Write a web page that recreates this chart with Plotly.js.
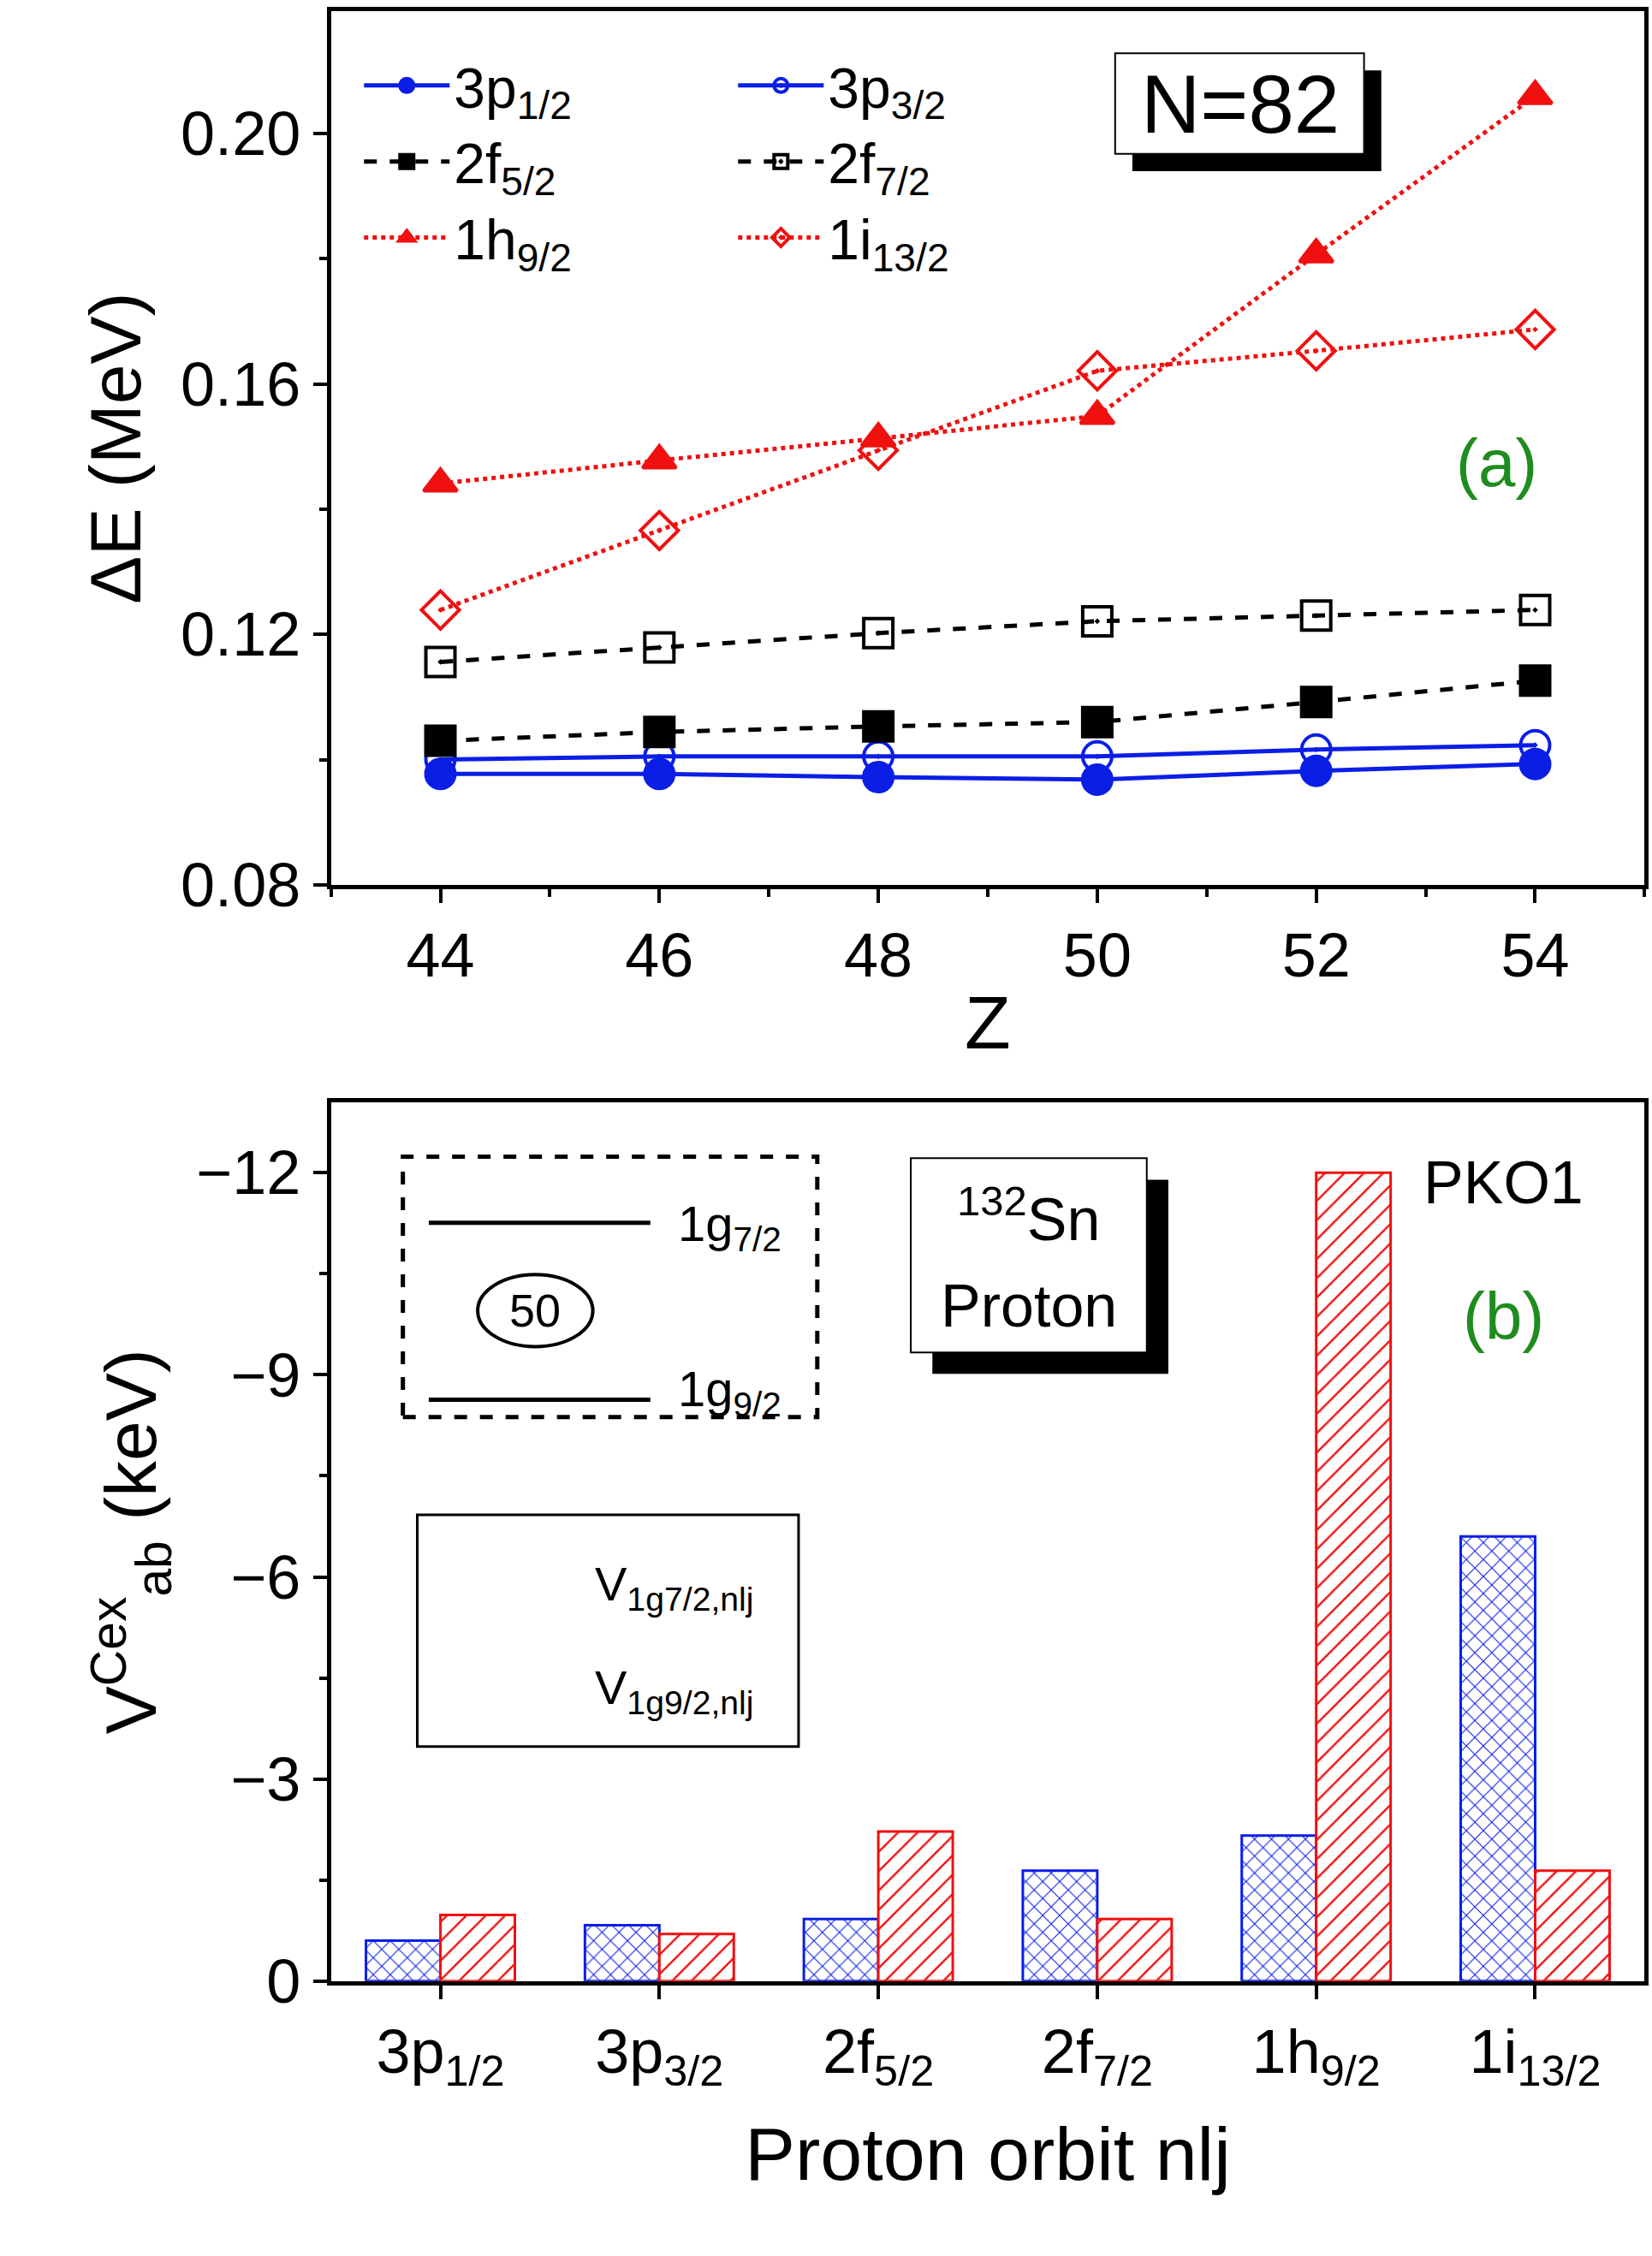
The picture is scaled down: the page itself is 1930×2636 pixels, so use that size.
<!DOCTYPE html>
<html><head><meta charset="utf-8">
<script src="https://cdn.plot.ly/plotly-3.0.1.min.js"></script>
<style>body{margin:0;background:#fff}#main{width:1930px;height:2636px}</style>
</head><body><div id="main"></div>
<script>
// panel (a): Delta E vs Z for N=82
const zValues = [44, 46, 48, 50, 52, 54]
const p1 = [0.0977, 0.0977, 0.0972, 0.0968, 0.0982, 0.0993]
const p3 = [0.1000, 0.1005, 0.1005, 0.1005, 0.1016, 0.1023]
const f5 = [0.1030, 0.1044, 0.1053, 0.1060, 0.1092, 0.1126]
const f7 = [0.1156, 0.1179, 0.1202, 0.1221, 0.1230, 0.1239]
const h9 = [0.1441, 0.1478, 0.1513, 0.1549, 0.1807, 0.2060]
const i13 = [0.1239, 0.1366, 0.1494, 0.1621, 0.1653, 0.1687]

// panel (b): V_ab^Cex in keV
const orbits = ['3p<sub>1/2</sub>', '3p<sub>3/2</sub>', '2f<sub>5/2</sub>', '2f<sub>7/2</sub>', '1h<sub>9/2</sub>', '1i<sub>13/2</sub>']
const v1g9 = [-0.60, -0.83, -0.92, -1.64, -2.16, -6.60]
const v1g7 = [-0.98, -0.70, -2.22, -0.92, -12.0, -1.64]
const barNames = ['V<sub>1g7/2,nlj</sub>', 'V<sub>1g9/2,nlj</sub>']

const K = 1.681
const px = x => x * K / 1930
const py = y => 1 - y * K / 2636
const BLUE = '#0a1ee6', RED = '#f01010', GREEN = '#1e8c1e'
const FONT = 'Liberation Sans, Arial, sans-serif'

const line = (name, y, color, dash, symbol, leg) => ({
  x: zValues, y: y, type: 'scatter', mode: 'lines+markers', name: name,
  xaxis: 'x', yaxis: 'y', legend: leg,
  line: {color: color, dash: dash, width: 5},
  marker: {color: color, symbol: symbol, size: 34, line: {color: color, width: 4}}
})

const redPattern = {shape: '/', fgcolor: RED, bgcolor: 'white', size: 16, solidity: 0.15}
const bluePattern = {shape: 'x', fgcolor: BLUE, bgcolor: 'white', size: 14, solidity: 0.15}

const idx = orbits.map((o, i) => i)
const plotData = [
  line('3p<sub>1/2</sub>', p1, BLUE, 'solid', 'circle', 'legend'),
  line('3p<sub>3/2</sub>', p3, BLUE, 'solid', 'circle-open-dot', 'legend2'),
  line('2f<sub>5/2</sub>', f5, 'black', 'dash', 'square', 'legend'),
  line('2f<sub>7/2</sub>', f7, 'black', 'dash', 'square-open-dot', 'legend2'),
  line('1h<sub>9/2</sub>', h9, RED, 'dot', 'triangle-up', 'legend'),
  line('1i<sub>13/2</sub>', i13, RED, 'dot', 'diamond-open-dot', 'legend2'),
  {x: idx, y: v1g9, type: 'bar', xaxis: 'x2', yaxis: 'y2', showlegend: false, name: barNames[1],
   marker: {color: 'white', line: {color: BLUE, width: 3}, pattern: bluePattern}},
  {x: idx, y: v1g7, type: 'bar', xaxis: 'x2', yaxis: 'y2', showlegend: false, name: barNames[0],
   marker: {color: 'white', line: {color: RED, width: 3}, pattern: redPattern}},
  // legend swatches for panel (b)
  {y: [1, 0], x: [1, 1], type: 'bar', orientation: 'h', xaxis: 'x3', yaxis: 'y3', showlegend: false,
   offsetgroup: 's', width: 0.72,
   marker: {color: 'white', line: {color: [RED, BLUE], width: 3},
            pattern: {shape: ['/', 'x'], fgcolor: [RED, BLUE], bgcolor: 'white', size: 14, solidity: 0.15}}}
]

const axisBase = {
  showline: true, mirror: true, linewidth: 5, linecolor: 'black',
  ticks: 'outside', ticklen: 16, tickwidth: 4, tickcolor: 'black',
  tickfont: {size: 72, family: FONT, color: 'black'}, zeroline: false, showgrid: false
}
const minorT = d => ({dtick: d, ticks: 'outside', ticklen: 9, tickwidth: 4, tickcolor: 'black'})

const rect = (x0, y0, x1, y1, fill, ln) => ({type: 'rect', xref: 'paper', yref: 'paper',
  x0: px(x0), x1: px(x1), y0: py(y1), y1: py(y0), fillcolor: fill, line: ln})
const shp = [
  rect(787, 49, 960, 119, 'black', {width: 0}),
  rect(775, 37, 948, 107, 'white', {color: 'black', width: 2}),
  rect(648, 820, 812, 955, 'black', {width: 0}),
  rect(633, 805, 797, 940, 'white', {color: 'black', width: 2}),
  rect(280, 804, 568, 985, 'rgba(0,0,0,0)', {color: 'black', width: 5, dash: 'dash'}),
  rect(290, 1053, 555, 1214, 'white', {color: 'black', width: 3}),
  {type: 'line', xref: 'paper', yref: 'paper', x0: px(298), x1: px(452), y0: py(850), y1: py(850), line: {color: 'black', width: 5}},
  {type: 'line', xref: 'paper', yref: 'paper', x0: px(298), x1: px(452), y0: py(973), y1: py(973), line: {color: 'black', width: 5}},
  {type: 'circle', xref: 'paper', yref: 'paper', x0: px(332), x1: px(412), y0: py(936), y1: py(886), line: {color: 'black', width: 4}}
]

const ann = (x, y, text, size, color, xanchor) => ({
  xref: 'paper', yref: 'paper', x: px(x), y: py(y), text: text, showarrow: false,
  xanchor: xanchor || 'center', yanchor: 'middle', font: {size: size, family: FONT, color: color || 'black'}
})

const layout = {
  width: 1930, height: 2636, margin: {l: 0, r: 0, t: 0, b: 0},
  paper_bgcolor: 'white', plot_bgcolor: 'white', font: {family: FONT, color: 'black'},
  barmode: 'group', bargap: 0.32, bargroupgap: 0,
  xaxis: Object.assign({}, axisBase, {domain: [px(230), px(1143)], anchor: 'y', range: [43, 55],
    dtick: 2, tick0: 44, minor: minorT(1),
    title: {text: 'Z', font: {size: 88, family: FONT}, standoff: 10}}),
  yaxis: Object.assign({}, axisBase, {domain: [py(615), py(8)], anchor: 'x', range: [0.08, 0.2195],
    dtick: 0.04, tick0: 0.08, tickformat: '.2f', minor: minorT(0.02),
    title: {text: 'ΔE (MeV)', font: {size: 84, family: FONT}, standoff: 20}}),
  xaxis2: Object.assign({}, axisBase, {domain: [px(230), px(1143)], anchor: 'y2', range: [-0.5, 5.5],
    tickvals: idx, ticktext: orbits,
    title: {text: 'Proton orbit nlj', font: {size: 88, family: FONT}, standoff: 40}}),
  yaxis2: Object.assign({}, axisBase, {domain: [py(1377), py(766)], anchor: 'x2', range: [0, -13.05],
    dtick: 3, tick0: 0, minor: minorT(1.5),
    title: {text: 'V<sup>Cex</sup><sub>ab</sub> (keV)', font: {size: 84, family: FONT}, standoff: 20}}),
  xaxis3: {domain: [px(305), px(403)], anchor: 'y3', range: [0, 1], visible: false, fixedrange: true},
  yaxis3: {domain: [py(1205), py(1062)], anchor: 'x3', range: [-0.5, 1.5], visible: false, fixedrange: true},
  legend: {x: px(250), y: py(30), xanchor: 'left', yanchor: 'top', bgcolor: 'rgba(0,0,0,0)',
    font: {size: 66, family: FONT}, itemwidth: 100, tracegroupgap: 0},
  legend2: {x: px(510), y: py(30), xanchor: 'left', yanchor: 'top', bgcolor: 'rgba(0,0,0,0)',
    font: {size: 66, family: FONT}, itemwidth: 100, tracegroupgap: 0},
  shapes: shp,
  annotations: [
    ann(862, 72, 'N=82', 96),
    ann(1040, 322, '(a)', 78, GREEN),
    ann(1045, 822, 'PKO1', 70),
    ann(1045, 915, '(b)', 78, GREEN),
    ann(715, 845, '<sup>132</sup>Sn', 70),
    ann(715, 908, 'Proton', 70),
    ann(372, 911, '50', 54),
    ann(470, 853, '1g<sub>7/2</sub>', 58, 'black', 'left'),
    ann(470, 968, '1g<sub>9/2</sub>', 58, 'black', 'left'),
    ann(412, 1103, barNames[0], 56, 'black', 'left'),
    ann(412, 1175, barNames[1], 56, 'black', 'left')
  ]
}

Plotly.newPlot('main', plotData, layout, {staticPlot: true})
</script>
</body></html>
